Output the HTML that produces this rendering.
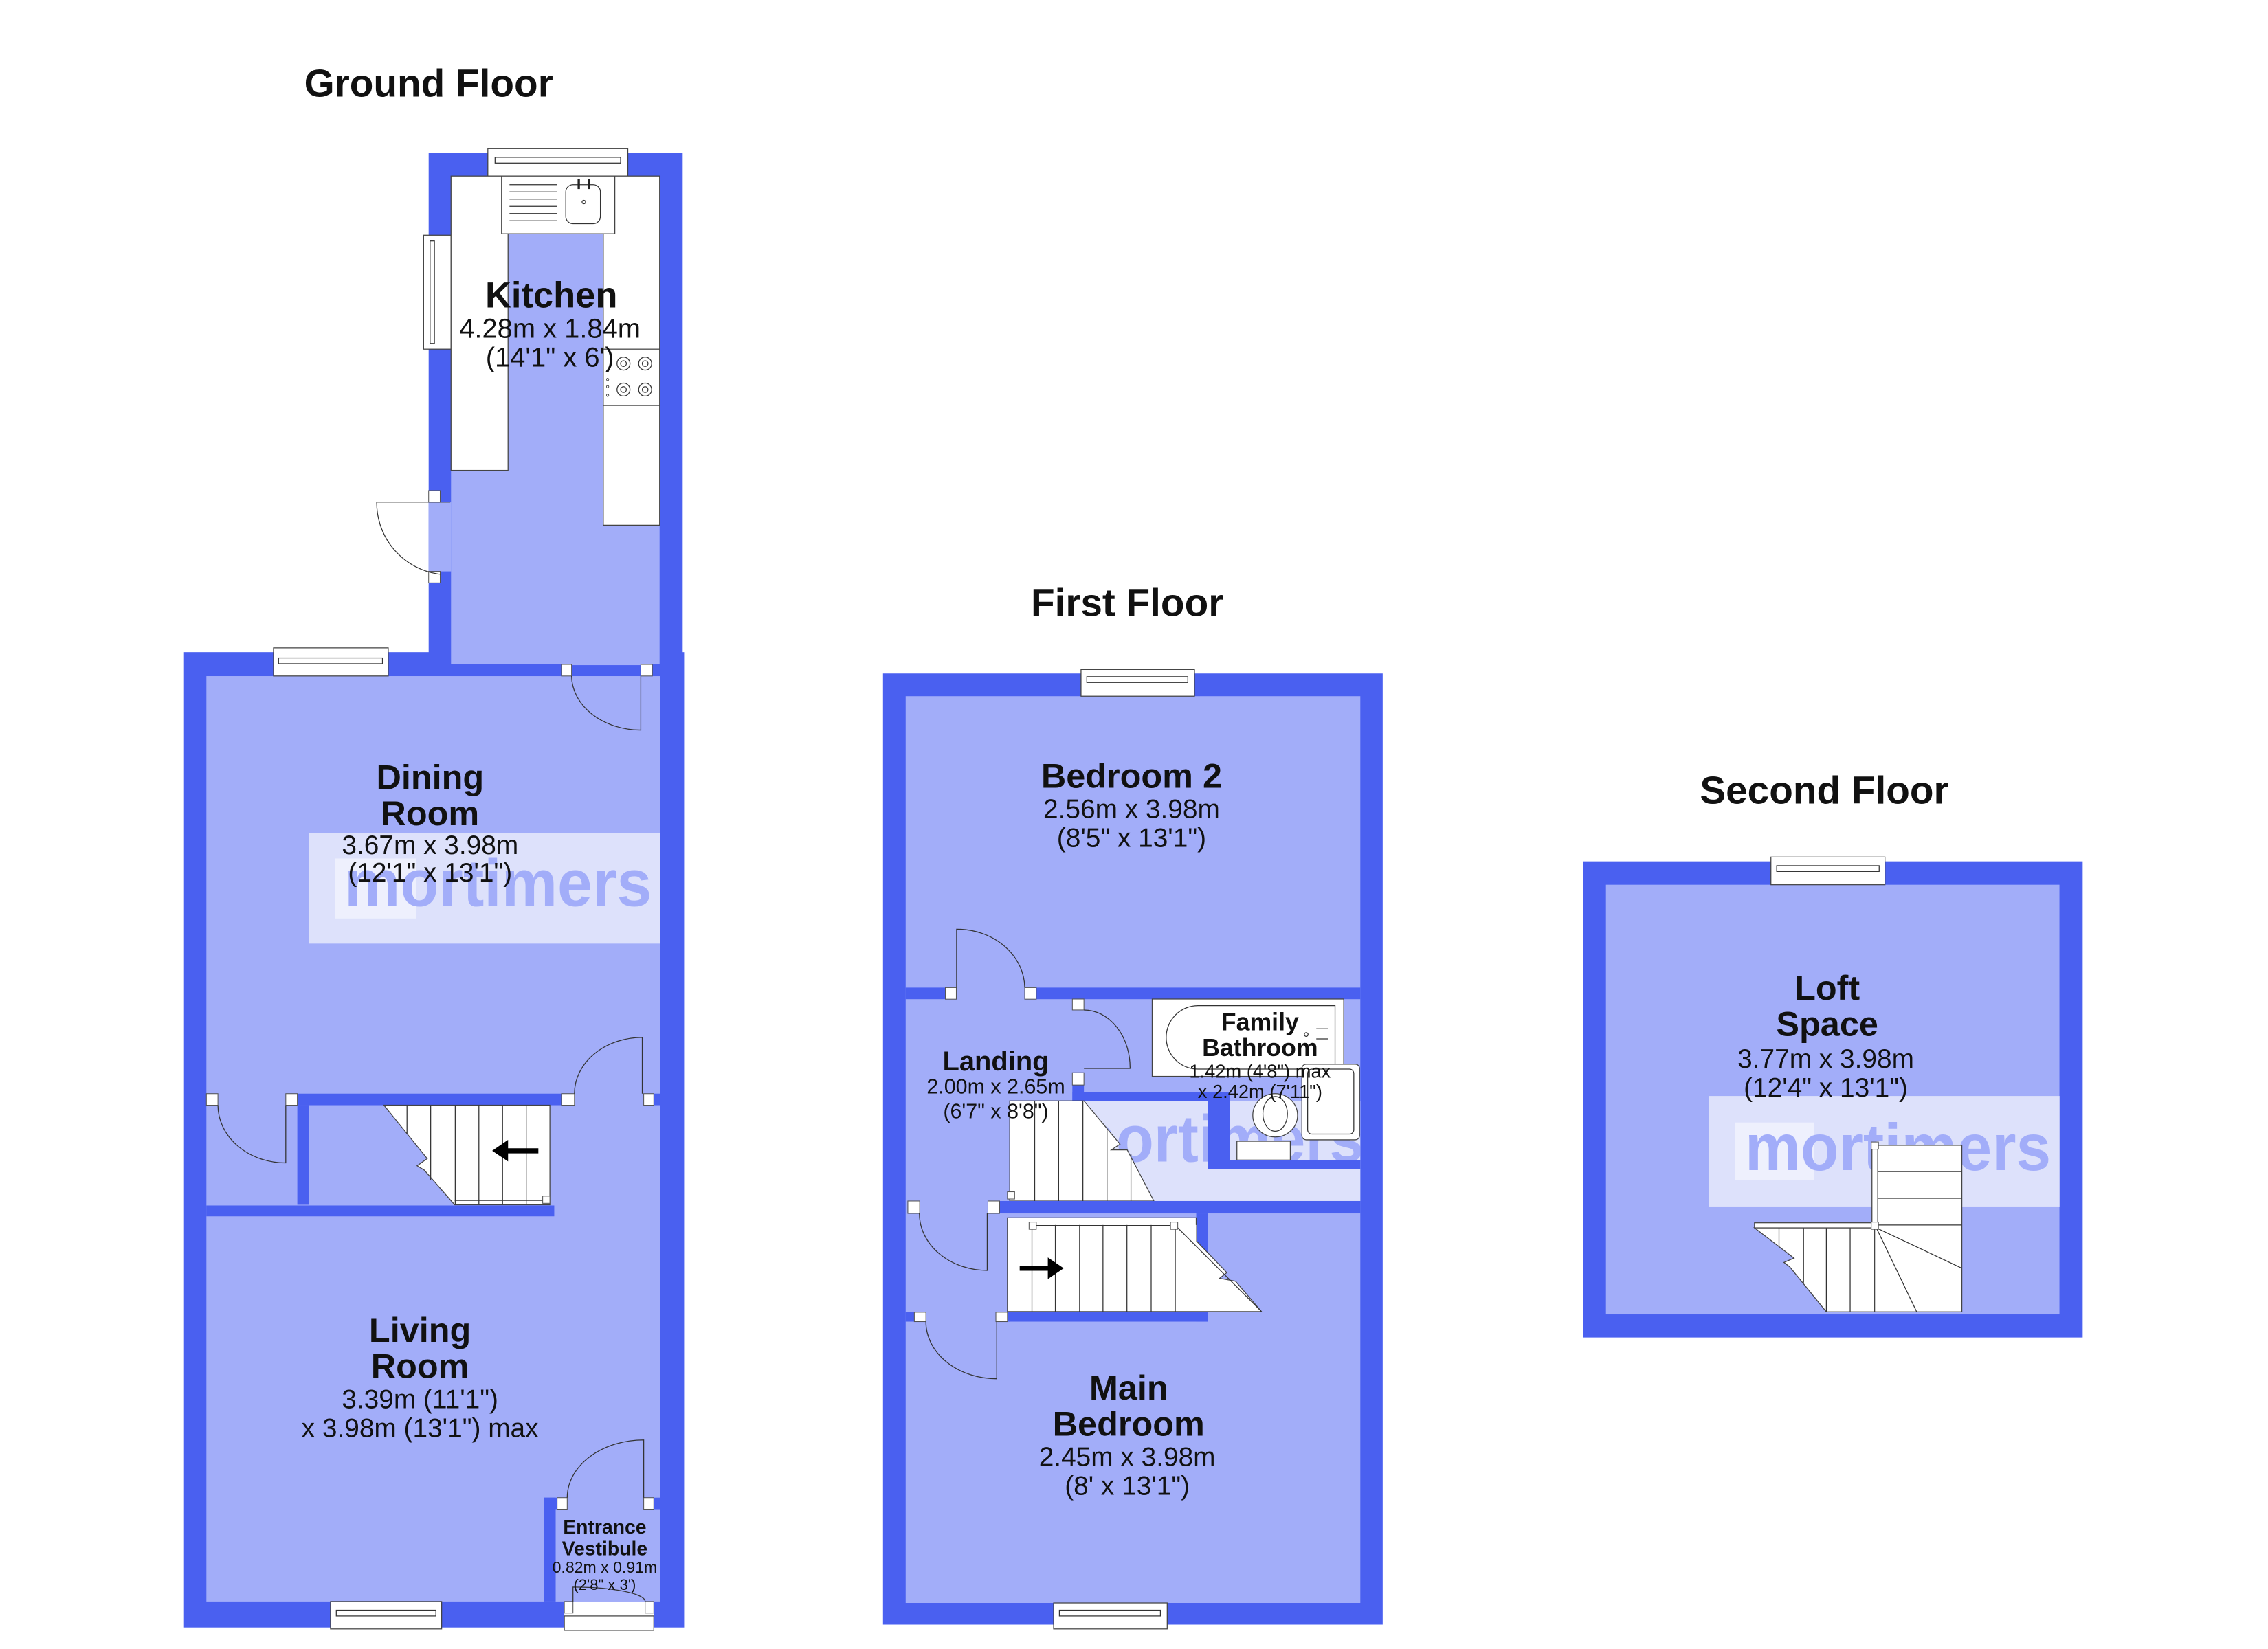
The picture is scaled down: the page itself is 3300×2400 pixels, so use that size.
<!DOCTYPE html>
<html><head><meta charset="utf-8"><style>
html,body{margin:0;padding:0;background:#fff;}
svg{display:block;}
text{font-family:"Liberation Sans",Arial,sans-serif;fill:#111;text-anchor:middle;}
.b{font-weight:bold;}
.w{fill:#4a60f0;}
.f{fill:#a2adf9;}
.p{fill:#fff;stroke:#555;stroke-width:0.5;}
.ln{fill:none;stroke:#333;stroke-width:0.6;}
.wh{fill:#fff;stroke:#444;stroke-width:0.6;}
.wm{font-weight:bold;fill:#a2adf9;text-anchor:start;}
</style></head><body>
<svg width="3300" height="2400" viewBox="0 0 1571.4 1142.9" preserveAspectRatio="none" xmlns="http://www.w3.org/2000/svg">
<defs><clipPath id="c1"><rect x="751" y="763" width="191.5" height="69.4"/></clipPath></defs>
<rect x="0" y="0" width="1571.4" height="1142.9" fill="#fff"/>

<!-- ================= GROUND FLOOR ================= -->
<text class="b" x="297" y="67" font-size="27">Ground Floor</text>
<rect class="w" x="297" y="106" width="176" height="360"/>
<rect class="w" x="127" y="452" width="347" height="676"/>
<rect class="f" x="312.5" y="122" width="144.5" height="339"/>
<rect class="f" x="143" y="468.6" width="314.5" height="641.4"/>
<rect class="f" x="297" y="348" width="15.5" height="48"/>
<rect class="p" x="297" y="340" width="8" height="8"/>
<rect class="p" x="297" y="396" width="8" height="8"/>
<path class="ln" d="M312,348 L261,348 A50,50 0 0 0 305,398"/>
<rect class="wh" x="293.5" y="163" width="19" height="79"/>
<rect class="ln" x="298" y="167" width="3" height="71"/>
<rect class="wh" x="338" y="103" width="97" height="19"/>
<rect class="ln" x="343" y="109" width="87" height="4"/>
<rect class="wh" x="312.5" y="122" width="39.5" height="204"/>
<rect class="wh" x="418" y="122" width="39" height="242"/>
<rect fill="#fff" x="313" y="122.5" width="143.5" height="39"/>
<rect class="wh" x="347.5" y="122" width="78.5" height="40"/>
<g class="ln"><line x1="353" y1="128" x2="386" y2="128"/><line x1="353" y1="133" x2="386" y2="133"/><line x1="353" y1="138" x2="386" y2="138"/><line x1="353" y1="143" x2="386" y2="143"/><line x1="353" y1="148" x2="386" y2="148"/><line x1="353" y1="153" x2="386" y2="153"/></g>
<rect class="ln" x="392" y="128" width="24" height="27" rx="5"/>
<line x1="401" y1="124" x2="401" y2="131" stroke="#222" stroke-width="1.6"/>
<line x1="408" y1="124" x2="408" y2="131" stroke="#222" stroke-width="1.6"/>
<circle class="ln" cx="404.5" cy="140" r="1.2"/>
<rect class="wh" x="418" y="242" width="39" height="39"/>
<g class="ln"><circle cx="432" cy="252" r="4.5"/><circle cx="432" cy="252" r="2"/><circle cx="447" cy="252" r="4.5"/><circle cx="447" cy="252" r="2"/>
<circle cx="432" cy="270" r="4.5"/><circle cx="432" cy="270" r="2"/><circle cx="447" cy="270" r="4.5"/><circle cx="447" cy="270" r="2"/></g>
<g fill="none" stroke="#333" stroke-width="0.4"><circle cx="421" cy="257" r="0.8"/><circle cx="421" cy="263" r="0.8"/><circle cx="421" cy="268" r="0.8"/><circle cx="421" cy="274" r="0.8"/></g>
<text class="b" x="382" y="213" font-size="25">Kitchen</text>
<text x="381" y="234" font-size="19">4.28m x 1.84m</text>
<text x="381" y="254" font-size="19">(14'1" x 6')</text>

<rect class="w" x="312" y="460.5" width="77" height="8.1"/>
<rect class="w" x="452" y="460.5" width="5.5" height="8.1"/>
<rect class="p" x="389" y="460.5" width="7" height="8"/>
<rect class="p" x="444" y="460.5" width="8" height="8"/>
<path class="ln" d="M444,468.6 L444,506 A48,38 0 0 1 396,468.6"/>
<rect class="wh" x="189.5" y="449" width="79.5" height="19.5"/>
<rect class="ln" x="193" y="456" width="72" height="4"/>
<rect x="214" y="577.6" width="243.5" height="76.4" fill="#dde1fb"/>
<rect x="232" y="595" width="56.5" height="41.6" fill="#eef0fd"/>
<text class="wm" x="238.6" y="627.8" font-size="46" textLength="213" lengthAdjust="spacingAndGlyphs">mortimers</text>
<text class="b" x="298" y="547" font-size="24">Dining</text>
<text class="b" x="298" y="572" font-size="24">Room</text>
<text x="298" y="592" font-size="18.5">3.67m x 3.98m</text>
<text x="298" y="611" font-size="18.5">(12'1" x 13'1")</text>

<rect class="w" x="206" y="758" width="183" height="8"/>
<rect class="w" x="453" y="758" width="4.5" height="8"/>
<rect class="p" x="143" y="758" width="8" height="8"/>
<rect class="p" x="198" y="758" width="8" height="8"/>
<rect class="p" x="389" y="758" width="9" height="8"/>
<rect class="p" x="446" y="758" width="7" height="8"/>
<path class="ln" d="M445,758 L445,719 A47,39 0 0 0 398,758"/>
<path class="ln" d="M198,766 L198,806 A47,40 0 0 1 151,766"/>
<rect class="w" x="206" y="766" width="8" height="69"/>
<rect class="w" x="143" y="835.5" width="241" height="7.5"/>
<polygon class="wh" points="266,766 381,766 381,835 315,835 294,811 289,808 296,803 266,766"/>
<g class="ln"><line x1="282" y1="766" x2="282" y2="786"/><line x1="298.4" y1="766" x2="298.4" y2="818"/><line x1="315.4" y1="766" x2="315.4" y2="835"/><line x1="331.8" y1="766" x2="331.8" y2="835"/><line x1="348.2" y1="766" x2="348.2" y2="835"/><line x1="364.6" y1="766" x2="364.6" y2="835"/><line x1="315" y1="832" x2="377" y2="832"/></g>
<rect class="p" x="376" y="829" width="5" height="5"/>
<line x1="373" y1="797.6" x2="350" y2="797.6" stroke="#000" stroke-width="3.5"/>
<polygon points="341,797.6 352,790 352,805" fill="#000"/>

<text class="b" x="291" y="930" font-size="24">Living</text>
<text class="b" x="291" y="955" font-size="24">Room</text>
<text x="291" y="976" font-size="18.5">3.39m (11'1")</text>
<text x="291" y="996" font-size="18.5">x 3.98m (13'1") max</text>
<rect class="wh" x="229" y="1110" width="77" height="19"/>
<rect class="ln" x="233" y="1116" width="69" height="4"/>
<rect class="w" x="377" y="1038" width="8" height="72"/>
<rect class="w" x="377" y="1038" width="9" height="8"/>
<rect class="w" x="453" y="1038" width="4.5" height="8"/>
<rect class="p" x="386" y="1038" width="7" height="8"/>
<rect class="p" x="446" y="1038" width="7" height="8"/>
<path class="ln" d="M446,1038 L446,998 A53,40 0 0 0 393,1038"/>
<rect fill="#fff" x="391" y="1110" width="62" height="20"/>
<rect class="p" x="391" y="1110" width="6" height="8"/>
<rect class="p" x="447" y="1110" width="6" height="8"/>
<rect class="wh" x="391" y="1120" width="62" height="10"/>
<path class="ln" d="M397,1110 L397,1100 A50,10 0 0 1 447,1110"/>
<text class="b" x="419" y="1063" font-size="13.5">Entrance</text>
<text class="b" x="419" y="1078" font-size="13.5">Vestibule</text>
<text x="419" y="1090" font-size="11">0.82m x 0.91m</text>
<text x="419" y="1102" font-size="10.5">(2'8" x 3')</text>

<!-- ================= FIRST FLOOR ================= -->
<text class="b" x="781" y="427" font-size="27">First Floor</text>
<rect class="w" x="611.8" y="466.8" width="346.2" height="659.2"/>
<rect class="f" x="627.5" y="482.5" width="315" height="628.5"/>
<rect class="wh" x="749" y="464" width="78.6" height="18.5"/>
<rect class="ln" x="753" y="469" width="70" height="4"/>
<rect class="wh" x="730" y="1111" width="78.7" height="18"/>
<rect class="ln" x="734" y="1116" width="70" height="4"/>
<rect class="w" x="627.5" y="684.5" width="27.5" height="8"/>
<rect class="w" x="718" y="684.5" width="224.5" height="8"/>
<rect class="p" x="655" y="684.5" width="7.6" height="8"/>
<rect class="p" x="710" y="684.5" width="8" height="8"/>
<path class="ln" d="M662.8,684.5 L662.8,644 A47,41 0 0 1 710,684.5"/>
<rect x="751" y="763" width="191.5" height="69.4" fill="#dde1fb"/>
<text class="wm" x="735" y="805" font-size="46" textLength="210" lengthAdjust="spacingAndGlyphs" clip-path="url(#c1)">mortimers</text>
<rect class="wh" x="798.3" y="692.4" width="132.7" height="53.6"/>
<path class="ln" d="M830,697 L925,697 L925,741 L830,741 A22,22 0 0 1 830,697 Z"/>
<rect class="w" x="743" y="752" width="8" height="11.2"/>
<rect class="w" x="743" y="756.7" width="94" height="6.5"/>
<rect class="w" x="837" y="756.7" width="15" height="53.8"/>
<rect class="w" x="837" y="803.9" width="105.5" height="6.6"/>
<rect class="p" x="743" y="692.4" width="8" height="7.6"/>
<rect class="p" x="743" y="743.5" width="8" height="8.5"/>
<path class="ln" d="M751,740.5 L783,740.5 A32,40 0 0 0 751,700"/>
<rect class="wh" x="902" y="737.6" width="40" height="52.4" rx="3"/>
<rect class="ln" x="906" y="741" width="32" height="45" rx="3"/>
<ellipse class="wh" cx="883.5" cy="773" rx="15.5" ry="15"/>
<ellipse class="ln" cx="883.5" cy="772" rx="8.5" ry="12"/>
<rect class="wh" x="857" y="791" width="37" height="13"/>
<g class="ln"><line x1="912" y1="713" x2="920" y2="713"/><line x1="912" y1="720" x2="920" y2="720"/><circle cx="905" cy="717" r="1.3"/></g>
<text class="b" x="873" y="714" font-size="17">Family</text>
<text class="b" x="873" y="732" font-size="17">Bathroom</text>
<text x="873" y="747" font-size="13">1.42m (4'8") max</text>
<text x="873" y="761" font-size="13">x 2.42m (7'11")</text>
<polygon class="wh" points="699.6,763 751,763 776,793 770,797 781,797 799.5,832.4 699.6,832.4"/>
<g class="ln"><line x1="716.9" y1="763" x2="716.9" y2="832.4"/><line x1="733.5" y1="763" x2="733.5" y2="832.4"/><line x1="750.3" y1="763" x2="750.3" y2="832.4"/><line x1="767" y1="783" x2="767" y2="832.4"/><line x1="783.6" y1="800" x2="783.6" y2="832.4"/></g>
<rect class="p" x="698" y="826" width="5" height="5"/>
<rect class="w" x="692.6" y="832.4" width="249.9" height="8.6"/>
<rect class="p" x="629" y="832.4" width="8.2" height="8.6"/>
<rect class="p" x="684.5" y="832.4" width="8.1" height="8.6"/>
<path class="ln" d="M684,841 L684,880.5 A47,39.5 0 0 1 637,841"/>
<rect class="w" x="828.8" y="841" width="8.2" height="75"/>
<rect class="w" x="627.5" y="909.5" width="6" height="6.5"/>
<rect class="w" x="698" y="909.5" width="139" height="6.5"/>
<rect class="p" x="633.5" y="909.5" width="8" height="6.5"/>
<rect class="p" x="690" y="909.5" width="8" height="6.5"/>
<path class="ln" d="M690.6,916 L690.6,955.6 A49,39.6 0 0 1 641.5,916"/>
<polygon class="wh" points="698,844 828.8,844 828.8,860 850,882 845,886 856,888 874,909 698,909"/>
<polygon fill="#fff" points="814,849 828.8,849 828.8,868"/>
<line class="ln" x1="814" y1="849" x2="874" y2="909"/>
<g class="ln"><line x1="715" y1="849" x2="715" y2="909"/><line x1="731.2" y1="849" x2="731.2" y2="909"/><line x1="748" y1="849" x2="748" y2="909"/><line x1="764.2" y1="849" x2="764.2" y2="909"/><line x1="780.8" y1="849" x2="780.8" y2="909"/><line x1="797.6" y1="849" x2="797.6" y2="909"/><line x1="814.3" y1="849" x2="814.3" y2="909"/><line x1="715" y1="849.4" x2="814" y2="849.4"/></g>
<rect class="p" x="713" y="847" width="5" height="5"/>
<rect class="p" x="811" y="847" width="5" height="5"/>
<line x1="706.5" y1="879" x2="728" y2="879" stroke="#000" stroke-width="3.5"/>
<polygon points="737,879 726,871.5 726,886.5" fill="#000"/>
<text class="b" x="784" y="546" font-size="24">Bedroom 2</text>
<text x="784" y="567" font-size="18.5">2.56m x 3.98m</text>
<text x="784" y="587" font-size="18.5">(8'5" x 13'1")</text>
<text class="b" x="690" y="742" font-size="19">Landing</text>
<text x="690" y="758" font-size="14.5">2.00m x 2.65m</text>
<text x="690" y="775" font-size="14.5">(6'7" x 8'8")</text>
<text class="b" x="782" y="970" font-size="24">Main</text>
<text class="b" x="782" y="995" font-size="24">Bedroom</text>
<text x="781" y="1016" font-size="18.5">2.45m x 3.98m</text>
<text x="781" y="1036" font-size="18.5">(8' x 13'1")</text>

<!-- ================= SECOND FLOOR ================= -->
<text class="b" x="1264" y="557" font-size="27">Second Floor</text>
<rect class="w" x="1097" y="597" width="346" height="330"/>
<rect class="f" x="1112.7" y="613.2" width="314.2" height="297.8"/>
<rect class="wh" x="1227" y="594" width="79" height="19.2"/>
<rect class="ln" x="1231" y="600" width="71" height="4"/>
<rect x="1184" y="759.6" width="243" height="76.6" fill="#dde1fb"/>
<rect x="1202" y="778" width="55" height="40" fill="#eef0fd"/>
<text class="wm" x="1209" y="810.9" font-size="46" textLength="212" lengthAdjust="spacingAndGlyphs">mortimers</text>
<rect class="wh" x="1298.8" y="793.8" width="60.5" height="115.4"/>
<g class="ln"><line x1="1298.8" y1="812" x2="1359.3" y2="812"/><line x1="1298.8" y1="830.5" x2="1359.3" y2="830.5"/><line x1="1298.8" y1="849" x2="1359.3" y2="849"/><line x1="1300" y1="851" x2="1359.3" y2="879"/><line x1="1300" y1="851" x2="1328" y2="909.2"/></g>
<polygon class="wh" points="1215.6,851 1298.8,851 1298.8,909.2 1265.4,909.2 1240,878 1236,875 1243,872 1215.6,851"/>
<g class="ln"><line x1="1232.6" y1="851" x2="1232.6" y2="864"/><line x1="1249.6" y1="851" x2="1249.6" y2="889"/><line x1="1265.4" y1="851" x2="1265.4" y2="909"/><line x1="1281.9" y1="851" x2="1281.9" y2="909"/></g>
<rect class="wh" x="1215.6" y="847.5" width="83" height="3.5"/>
<rect class="wh" x="1297" y="795" width="4" height="53"/>
<rect class="p" x="1296.5" y="791.5" width="5" height="5"/>
<rect class="p" x="1296.5" y="847" width="5" height="5"/>
<text class="b" x="1266" y="693" font-size="24">Loft</text>
<text class="b" x="1266" y="718" font-size="24">Space</text>
<text x="1265" y="740" font-size="18.5">3.77m x 3.98m</text>
<text x="1265" y="760" font-size="18.5">(12'4" x 13'1")</text>
</svg>
</body></html>
